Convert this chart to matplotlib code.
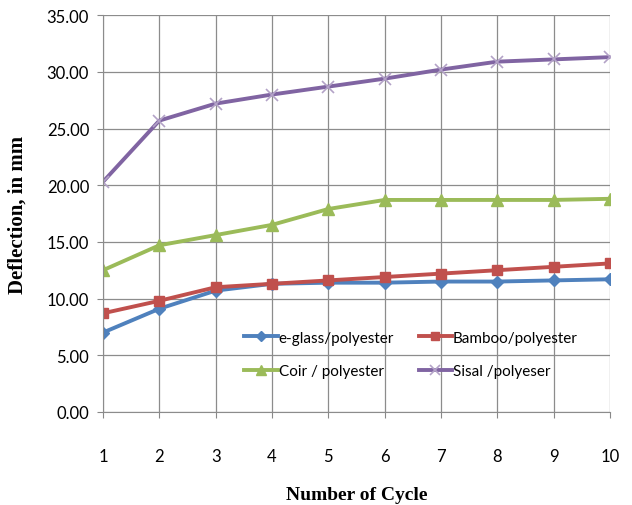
import matplotlib
matplotlib.use("Agg")
import matplotlib.pyplot as plt

cycles = [1, 2, 3, 4, 5, 6, 7, 8, 9, 10]
eglass = [7.0, 9.1, 10.7, 11.3, 11.4, 11.4, 11.5, 11.5, 11.6, 11.7]
bamboo = [8.7, 9.8, 11.0, 11.3, 11.6, 11.9, 12.2, 12.5, 12.8, 13.1]
coir = [12.5, 14.7, 15.6, 16.5, 17.9, 18.7, 18.7, 18.7, 18.7, 18.8]
sisal = [20.3, 25.7, 27.2, 28.0, 28.7, 29.4, 30.2, 30.9, 31.1, 31.3]
labels = ["e-glass/polyester", "Bamboo/polyester", "Coir / polyester", "Sisal /polyeser"]
yticks = [0, 5, 10, 15, 20, 25, 30, 35]

fig = plt.figure(figsize=(6.32, 5.06), dpi=100)
ax = fig.add_axes([0.163, 0.184, 0.802, 0.784])

tick_font = "Lato"
h1, = ax.plot(cycles, eglass, color="#4F81BD", marker="D", ms=6, lw=2.8, label=labels[0])
h2, = ax.plot(cycles, bamboo, color="#C0504D", marker="s", ms=7, lw=2.8, label=labels[1])
h3, = ax.plot(cycles, coir, color="#9BBB59", marker="^", ms=8, lw=2.8, label=labels[2])
h4, = ax.plot(cycles, sisal, color="#8064A2", marker="x", ms=9, mew=1.2, mec="#B3A2C7", lw=2.8, label=labels[3])

ax.set_xlim(1, 10)
ax.set_ylim(0, 35)
ax.set_xticks(cycles)
ax.set_yticks(yticks)
ax.set_yticklabels([f"{v:.2f}" for v in yticks], fontfamily=tick_font, fontsize=12)
ax.set_xticklabels([str(c) for c in cycles], fontfamily=tick_font, fontsize=12)
ax.tick_params(axis="x", pad=22, length=4, color="#888888")
ax.tick_params(axis="y", pad=6, length=4, color="#888888")
ax.grid(True, color="#8C8C8C", lw=0.9)
ax.set_axisbelow(True)
for s in ["top", "right"]:
    ax.spines[s].set_visible(False)
for s in ["left", "bottom"]:
    ax.spines[s].set_color("#8C8C8C")

ax.set_xlabel("Number of Cycle", fontfamily="Liberation Serif", fontweight="bold", fontsize=14, labelpad=16)
ax.set_ylabel("Deflection, in mm", fontfamily="Liberation Serif", fontweight="bold", fontsize=15, labelpad=14)

leg = ax.legend([h1, h3, h2, h4], [labels[0], labels[2], labels[1], labels[3]],
                ncol=2, loc="center left", bbox_to_anchor=(0.252, 0.145), frameon=False,
                prop={"family": tick_font, "size": 11}, handlelength=2.2, handletextpad=0.05,
                columnspacing=1.6, labelspacing=1.25, markerscale=0.85)

fig.savefig("out.png", dpi=100)
